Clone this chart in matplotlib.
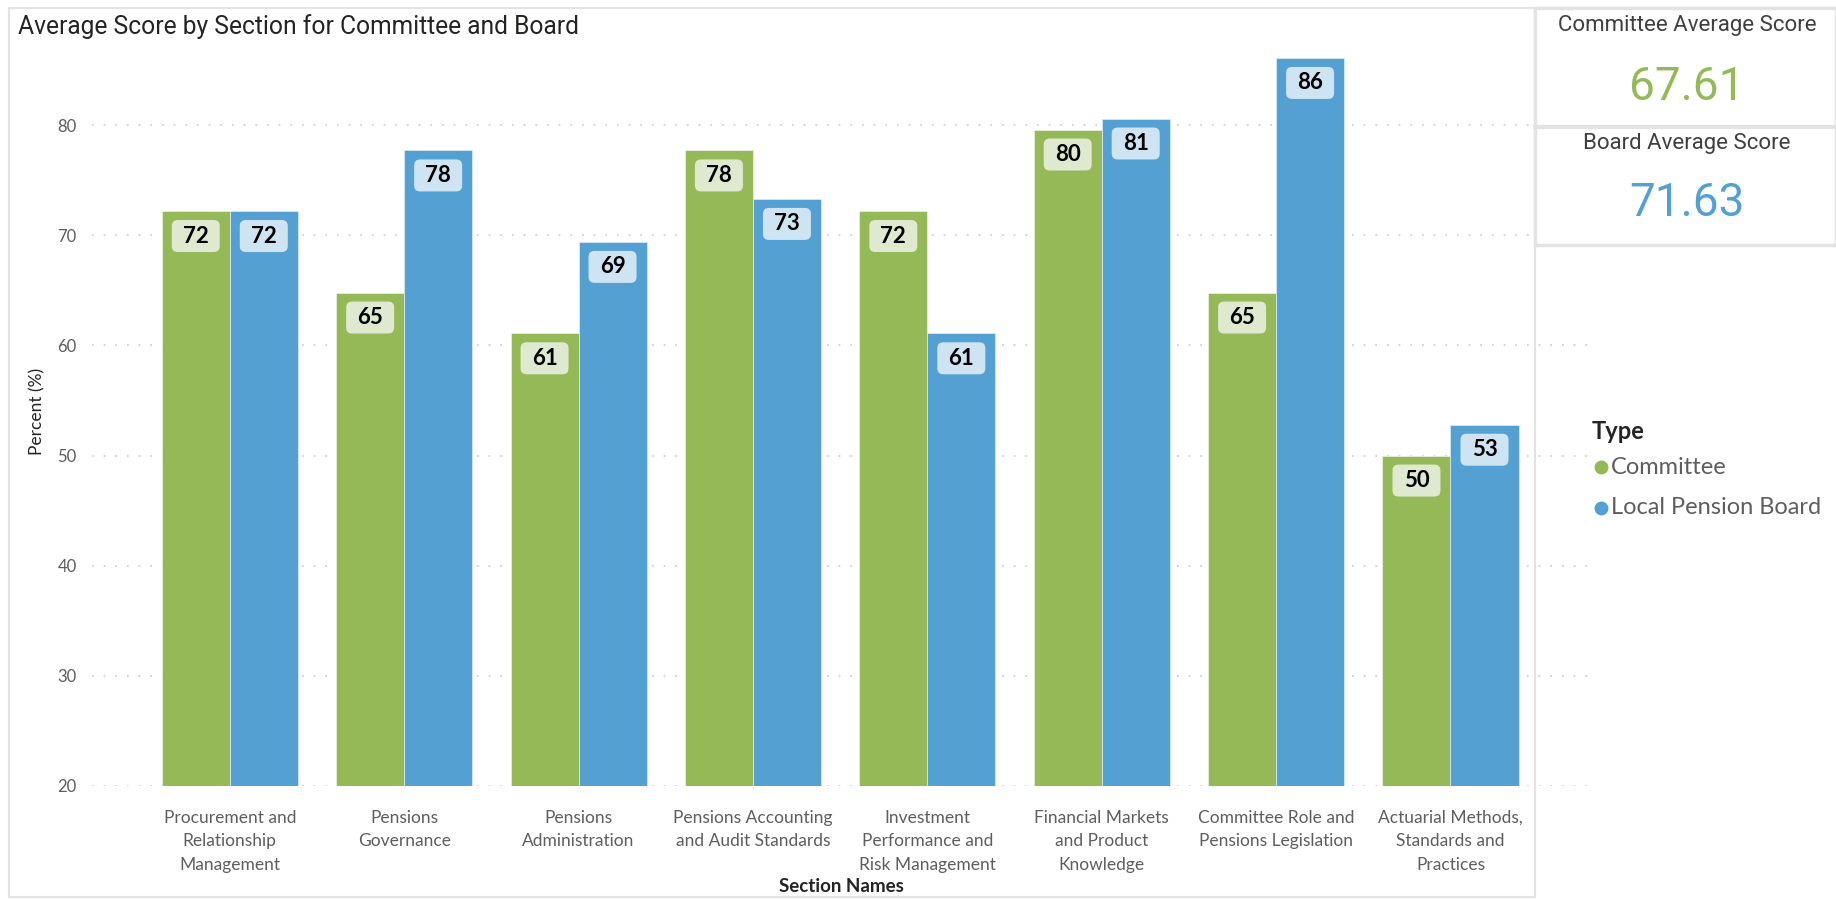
import matplotlib
matplotlib.use("Agg")
import matplotlib.pyplot as plt
from matplotlib.patches import FancyBboxPatch, Rectangle
from matplotlib.lines import Line2D
from matplotlib.transforms import IdentityTransform

# ---- data -------------------------------------------------------------
sections = [
    "Procurement and\nRelationship\nManagement",
    "Pensions\nGovernance",
    "Pensions\nAdministration",
    "Pensions Accounting\nand Audit Standards",
    "Investment\nPerformance and\nRisk Management",
    "Financial Markets\nand Product\nKnowledge",
    "Committee Role and\nPensions Legislation",
    "Actuarial Methods,\nStandards and\nPractices",
]
committee = [72.2, 64.8, 61.1, 77.7, 72.2, 79.6, 64.8, 50.0]
board = [72.2, 77.7, 69.4, 73.3, 61.1, 80.6, 86.1, 52.8]
series_names = ["Committee", "Local Pension Board"]
y_ticks = [20, 30, 40, 50, 60, 70, 80]
committee_avg = 67.61
board_avg = 71.63

# ---- style ------------------------------------------------------------
GREEN = "#94b956"
BLUE = "#55a0d3"
GREEN_LBL = "#dfe9cf"
BLUE_LBL = "#cfe4f3"
GREY_TXT = "#605e5c"
DARK_TXT = "#252423"
CARD_TXT = "#3f3f3f"
FRAME = "#e3e3e3"
UI_FONT = ["Lato", "DejaVu Sans"]
HEAD_FONT = ["Roboto", "DejaVu Sans"]

W, H = 1836, 899
fig = plt.figure(figsize=(W / 100, H / 100), dpi=100)
fig.patch.set_facecolor("white")


def fx(x):
    return x / W


def fy(y):
    return 1 - y / H


# outer frame of the chart visual
fig.add_artist(Rectangle((fx(9), fy(897)), fx(1535) - fx(9), fy(8) - fy(897),
                         transform=fig.transFigure, fill=False,
                         edgecolor=FRAME, linewidth=1.5))

# ---- axes -------------------------------------------------------------
ax = fig.add_axes([fx(92), fy(786), fx(1590) - fx(92), fy(37) - fy(786)])
ax.set_xlim(-0.79, 7.80)
ax.set_ylim(20, 88)
for s in ax.spines.values():
    s.set_visible(False)
ax.set_facecolor("none")

ax.set_yticks(y_ticks)
ax.set_yticklabels([str(t) for t in y_ticks], fontsize=12, color=GREY_TXT,
                   family=UI_FONT)
ax.tick_params(axis="y", length=0, pad=11)
ax.yaxis.grid(True, color="#c8c8c8", linestyle=(0, (1, 6)), linewidth=1.2)
ax.set_axisbelow(True)

x = list(range(len(sections)))
bw = 0.39
ax.bar([i - bw / 2 for i in x], [v - 20 for v in committee], bottom=20,
       width=bw, color=GREEN, edgecolor="#e8f0dc", linewidth=0.6, zorder=2)
ax.bar([i + bw / 2 for i in x], [v - 20 for v in board], bottom=20,
       width=bw, color=BLUE, edgecolor="#d8e8f5", linewidth=0.6, zorder=2)

ax.set_xticks(x)
ax.set_xticklabels(sections, fontsize=12.5, color=GREY_TXT, family=UI_FONT,
                   linespacing=1.6, va="top")
ax.tick_params(axis="x", length=0, pad=17)

ax.set_ylabel("Percent (%)", fontsize=12.5, color=DARK_TXT, family=UI_FONT,
              labelpad=9)
fig.text(fx(841), fy(886), "Section Names", fontsize=13.5, color=DARK_TXT,
         family=UI_FONT, fontweight="bold", ha="center", va="center")

# data labels inside the top of each bar
for vals, off, lbl_col in ((committee, -bw / 2, GREEN_LBL),
                           (board, bw / 2, BLUE_LBL)):
    for i, v in enumerate(vals):
        cx, cy = ax.transData.transform((i + off, v))
        cy -= 25
        box = FancyBboxPatch((cx - 24, cy - 16), 48, 32,
                             boxstyle="round,pad=0,rounding_size=6",
                             transform=IdentityTransform(), facecolor=lbl_col,
                             edgecolor="none", zorder=3, clip_on=False)
        ax.add_artist(box)
        ax.annotate(f"{round(v)}", xy=(i + off, v), xytext=(0, -25),
                    textcoords="offset pixels", ha="center", va="center",
                    fontsize=16, fontweight="bold", color="black",
                    family=UI_FONT, zorder=4)

# title
fig.text(fx(18), fy(27), "Average Score by Section for Committee and Board",
         fontsize=17.7, color=DARK_TXT, family=HEAD_FONT, ha="left",
         va="center")

# legend
fig.text(fx(1592), fy(431), "Type", fontsize=17, fontweight="bold",
         color=DARK_TXT, family=UI_FONT, ha="left", va="center")
for k, (name, col) in enumerate(zip(series_names, (GREEN, BLUE))):
    yy = fy(467 + 41 * k)
    fig.add_artist(Line2D([fx(1601)], [yy], transform=fig.transFigure,
                          marker="o", markersize=9, linestyle="none",
                          markerfacecolor=col, markeredgecolor=col))
    fig.text(fx(1611), yy, name, fontsize=17, color=GREY_TXT,
             family=UI_FONT, ha="left", va="center")

# KPI cards
fig.add_artist(Rectangle((fx(1535), fy(245)), fx(1836) - fx(1535),
                         fy(8) - fy(245), transform=fig.transFigure,
                         facecolor="white", edgecolor=FRAME, linewidth=2.5,
                         zorder=5))
fig.add_artist(Line2D([fx(1535), fx(1836)], [fy(127), fy(127)],
                      transform=fig.transFigure, color=FRAME, linewidth=3,
                      zorder=6))
card_x = fx(1687)
fig.text(card_x, fy(26), "Committee Average Score", fontsize=16,
         color=CARD_TXT, family=HEAD_FONT, ha="center", va="center", zorder=7)
fig.text(card_x, fy(87), f"{committee_avg:.2f}", fontsize=33, color=GREEN,
         family=HEAD_FONT, ha="center", va="center", zorder=7)
fig.text(card_x, fy(144), "Board Average Score", fontsize=16,
         color=CARD_TXT, family=HEAD_FONT, ha="center", va="center", zorder=7)
fig.text(card_x, fy(203), f"{board_avg:.2f}", fontsize=33, color=BLUE,
         family=HEAD_FONT, ha="center", va="center", zorder=7)

fig.savefig("out.png", dpi=100, facecolor="white")
